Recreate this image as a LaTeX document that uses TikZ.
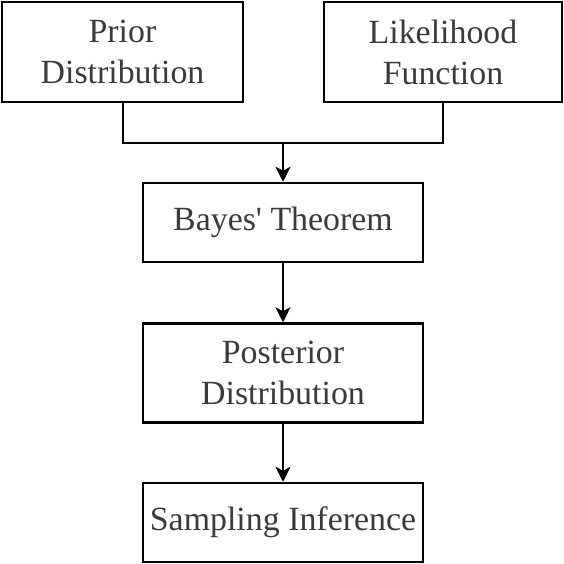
\documentclass[tikz,border=0pt]{standalone}
\usepackage{fontspec}
\setmainfont{Liberation Serif}
\usepackage{tikz}
\usetikzlibrary{positioning}
\usetikzlibrary{arrows.meta}
\definecolor{mytext}{HTML}{3A3A3A}
\tikzset{
  stage/.style={draw=black, line width=2.5bp, rectangle, align=center, text=mytext,
    font=\fontsize{34}{41}\selectfont, inner sep=0pt, minimum width=280bp},
  flow/.style={line width=2bp, black},
  feed/.style={flow, -{Stealth[length=15bp, width=15bp, inset=4bp]}}
}

\begin{document}
\begin{tikzpicture}[x=1bp, y=-1bp]
				\useasboundingbox (0,0) rectangle (564,564);
				\node [stage, minimum width=241bp, minimum height=100bp] (prior) at (122.5,52) {Prior\\Distribution};
				\node [stage, minimum width=238bp, minimum height=100bp] (likelihood) at (443,52) {Likelihood\\Function};
				\node [stage, minimum height=79bp] (bayes) at (283,222.5) {Bayes\textquotesingle{} Theorem};
				\node [stage, minimum height=99bp] (posterior) at (283,373) {Posterior\\Distribution};
				\node [stage, minimum height=79bp] (sampling) at (283,522.5) {Sampling Inference};
				\coordinate (merge) at (283,143);
				\draw [flow] (prior.south) |- (merge) -| (likelihood.south);
				\draw [feed] (merge) -- (bayes.north);
				\draw [feed] (bayes.south) -- (posterior.north);
				\draw [feed] (posterior.south) -- (sampling.north);
			\end{tikzpicture}
\end{document}
